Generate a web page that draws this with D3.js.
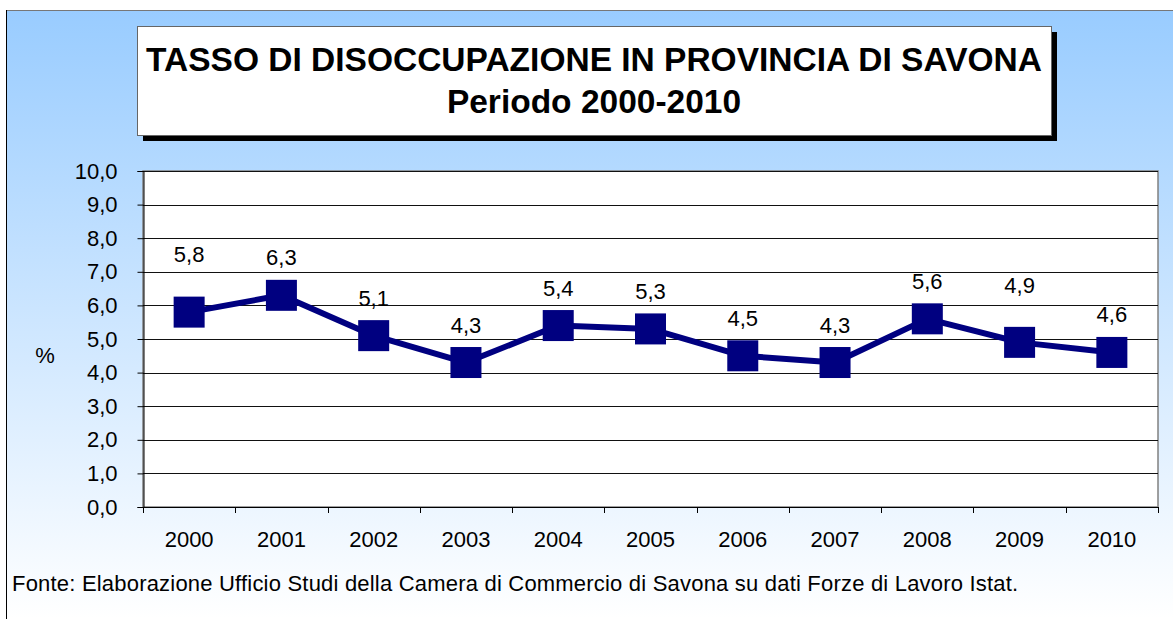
<!DOCTYPE html>
<html>
<head>
<meta charset="utf-8">
<script src="https://cdn.jsdelivr.net/npm/d3@7"></script>
<style>
	html, body { margin: 0; padding: 0; background: #fff; }
	svg { display: block; }
	text { font-family: "Liberation Sans", Arial, sans-serif; fill: #000; }
</style>
</head>
<body>
<svg id="chart" width="1173" height="619"></svg>
<script>
const years = ["2000", "2001", "2002", "2003", "2004", "2005", "2006", "2007", "2008", "2009", "2010"];
const rates = [5.8, 6.3, 5.1, 4.3, 5.4, 5.3, 4.5, 4.3, 5.6, 4.9, 4.6];
const yTicks = [0, 1, 2, 3, 4, 5, 6, 7, 8, 9, 10];
const titleLines = ["TASSO DI DISOCCUPAZIONE IN PROVINCIA DI SAVONA", "Periodo 2000-2010"];
const sourceNote = "Fonte: Elaborazione Ufficio Studi della Camera di Commercio di Savona su dati Forze di Lavoro Istat.";

// labels that were dragged higher in the original
const labelLift = { "2000": 20, "2009": 19 };

const width = 1173, height = 619;
const plot = { left: 143, top: 171, right: 1158, bottom: 507 };
const navy = "#000080";
const fontSize = "22px";
const fmt = v => d3.format(".1f")(v).replace(".", ",");

const svg = d3.select("#chart");

const defs = svg.append("defs");
const grad = defs.append("linearGradient")
	.attr("id", "bg")
	.attr("x1", 0).attr("y1", 0)
	.attr("x2", 0).attr("y2", 1);
grad.append("stop").attr("offset", "0%").attr("stop-color", "#99ccff");
grad.append("stop").attr("offset", "100%").attr("stop-color", "#ffffff");

// chart area
svg.append("rect")
	.attr("x", 7).attr("y", 11)
	.attr("width", width - 7).attr("height", height - 11)
	.attr("fill", "url(#bg)");
svg.append("line")
	.attr("x1", 6).attr("x2", width).attr("y1", 10.5).attr("y2", 10.5)
	.attr("stroke", "#777");
svg.append("line")
	.attr("x1", 6.5).attr("x2", 6.5).attr("y1", 10).attr("y2", height)
	.attr("stroke", "#000");

// title box
const tb = { x: 137, y: 26, w: 914, h: 109 };
svg.append("rect")
	.attr("x", tb.x + 6).attr("y", tb.y + 6)
	.attr("width", tb.w).attr("height", tb.h)
	.attr("fill", "#000");
svg.append("rect")
	.attr("x", tb.x + 0.5).attr("y", tb.y + 0.5)
	.attr("width", tb.w).attr("height", tb.h)
	.attr("fill", "#fff")
	.attr("stroke", "#666");

svg.selectAll(".title")
	.data(titleLines)
	.enter()
	.append("text")
	.attr("class", "title")
	.attr("x", tb.x + tb.w / 2)
	.attr("y", (d, i) => 71 + i * 42)
	.attr("text-anchor", "middle")
	.style("font-size", "33.5px")
	.style("font-weight", "bold")
	.text(d => d);

// scales
const x = d3.scaleBand()
	.domain(years)
	.range([plot.left, plot.right]);

const y = d3.scaleLinear()
	.domain([0, 10])
	.range([plot.bottom, plot.top]);

// plot area
svg.append("rect")
	.attr("x", plot.left).attr("y", plot.top)
	.attr("width", plot.right - plot.left).attr("height", plot.bottom - plot.top)
	.attr("fill", "#fff")
	.attr("stroke", "#808080")
	.attr("stroke-width", 1.5);

svg.append("g")
	.selectAll("line")
	.data(yTicks.filter(d => d > 0))
	.enter()
	.append("line")
	.attr("x1", plot.left).attr("x2", plot.right)
	.attr("y1", d => Math.round(y(d)) + 0.5)
	.attr("y2", d => Math.round(y(d)) + 0.5)
	.attr("stroke", "#111");

// y axis
const yAxis = svg.append("g")
	.attr("transform", `translate(${plot.left + 0.5},0)`)
	.call(d3.axisLeft(y)
		.tickValues(yTicks)
		.tickSize(6)
		.tickPadding(20)
		.tickFormat(fmt));
yAxis.select(".domain").attr("stroke", "#000");
yAxis.selectAll(".tick line").attr("stroke", "#000");
yAxis.selectAll(".tick text")
	.style("font-size", fontSize)
	.style("font-family", "Liberation Sans, Arial, sans-serif")
	.attr("fill", "#000");

// x axis
const xAxis = svg.append("g")
	.attr("transform", `translate(0,${plot.bottom + 0.5})`)
	.call(d3.axisBottom(x).tickSize(0));
xAxis.select(".domain").attr("stroke", "#000").attr("d", `M${plot.left},0H${plot.right}`);
xAxis.selectAll(".tick text")
	.attr("y", 39)
	.attr("dy", 0)
	.style("font-size", fontSize)
	.style("font-family", "Liberation Sans, Arial, sans-serif")
	.attr("fill", "#000");

svg.append("g")
	.selectAll("line")
	.data(years.concat([null]))
	.enter()
	.append("line")
	.attr("x1", (d, i) => Math.round(plot.left + i * x.step()) + 0.5)
	.attr("x2", (d, i) => Math.round(plot.left + i * x.step()) + 0.5)
	.attr("y1", plot.bottom)
	.attr("y2", plot.bottom + 6)
	.attr("stroke", "#000");

// "%" axis title
svg.append("text")
	.attr("x", 45).attr("y", 363)
	.attr("text-anchor", "middle")
	.style("font-size", fontSize)
	.text("%");

// series
const cx = d => x(d.year) + x.bandwidth() / 2;
const points = years.map((year, i) => ({ year, value: rates[i] }));

svg.append("path")
	.datum(points)
	.attr("d", d3.line().x(cx).y(d => y(d.value)))
	.attr("fill", "none")
	.attr("stroke", navy)
	.attr("stroke-width", 6)
	.attr("stroke-linejoin", "round");

const size = 31;
svg.append("g")
	.selectAll("rect")
	.data(points)
	.enter()
	.append("rect")
	.attr("x", d => cx(d) - size / 2)
	.attr("y", d => y(d.value) - size / 2)
	.attr("width", size).attr("height", size)
	.attr("fill", navy);

svg.append("g")
	.selectAll("text")
	.data(points)
	.enter()
	.append("text")
	.attr("x", cx)
	.attr("y", d => y(d.value) - 30 - (labelLift[d.year] || 0))
	.attr("text-anchor", "middle")
	.style("font-size", fontSize)
	.text(d => fmt(d.value));

// source note
svg.append("text")
	.attr("x", 12).attr("y", 591)
	.style("font-size", fontSize)
	.style("letter-spacing", "0.2px")
	.text(sourceNote);
</script>
</body>
</html>
